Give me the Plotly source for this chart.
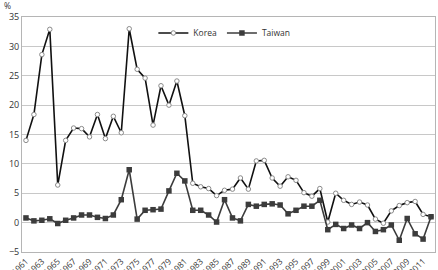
import plotly.graph_objects as go

years = [str(y) for y in range(1961, 2013)]
korea = [14.0, 18.4, 28.6, 32.9, 6.4, 14.0, 16.1, 16.0, 14.6, 18.4,
         14.3, 18.1, 15.3, 33.0, 26.1, 24.6, 16.6, 23.3, 20.0, 24.1,
         18.2, 6.7, 6.1, 5.8, 4.6, 5.5, 5.7, 7.6, 5.7, 10.5,
         10.6, 7.6, 6.2, 7.8, 7.2, 5.1, 4.5, 5.8, 0.1, 5.0,
         3.8, 3.1, 3.5, 3.0, 0.6, -0.1, 2.0, 2.9, 3.4, 3.6,
         1.4, 1.0]
taiwan = [0.8, 0.3, 0.4, 0.65, -0.15, 0.4, 0.8, 1.3, 1.3, 0.9,
          0.7, 1.3, 3.9, 9.0, 0.6, 2.1, 2.2, 2.3, 5.4, 8.4,
          7.1, 2.1, 2.1, 1.3, 0.1, 3.9, 0.8, 0.3, 3.1, 2.8,
          3.1, 3.2, 3.0, 1.5, 2.1, 2.8, 2.8, 3.8, -1.2, -0.3,
          -1.0, -0.4, -1.0, 0.0, -1.5, -1.2, -0.4, -3.0, 0.7, -1.9,
          -2.8, 1.0]
tick_years = [str(y) for y in range(1961, 2013, 2)]
y_ticks = [-5, 0, 5, 10, 15, 20, 25, 30, 35]

fig = go.Figure()
fig.add_trace(go.Scatter(
    x=years, y=korea, name="Korea", mode="lines+markers",
    line=dict(color="#111111", width=1.6),
    marker=dict(symbol="circle", size=4.5, color="white",
                line=dict(color="#8a8a8a", width=1)),
))
fig.add_trace(go.Scatter(
    x=years, y=taiwan, name="Taiwan", mode="lines+markers",
    line=dict(color="#3c3c3c", width=1.6),
    marker=dict(symbol="square", size=5.5, color="#3c3c3c"),
))

fig.update_layout(
    width=438, height=270,
    margin=dict(l=22, r=3, t=17, b=18, autoexpand=False),
    paper_bgcolor="white", plot_bgcolor="white",
    font=dict(family="Open Sans, Liberation Sans, sans-serif", size=9, color="#333333"),
    showlegend=True,
    legend=dict(orientation="h", x=0.49, xanchor="center", y=0.932, yanchor="middle",
                font=dict(size=8.5, color="#333333"), bgcolor="rgba(0,0,0,0)",
                itemwidth=30, tracegroupgap=0),
    xaxis=dict(type="category", categoryorder="array", categoryarray=years,
               range=[-0.5, len(years) - 0.5], automargin=False,
               tickmode="array", tickvals=tick_years, ticktext=tick_years,
               tickangle=-45, showgrid=False, zeroline=False,
               showline=True, linecolor="#b5b5b5", linewidth=1, mirror=True,
               ticks="", tickfont=dict(size=8.5)),
    yaxis=dict(range=[-5, 35], tickvals=y_ticks, showgrid=True, automargin=False,
               gridcolor="#c8c8c8", gridwidth=1, zeroline=False,
               showline=True, linecolor="#b5b5b5", linewidth=1, mirror=True,
               ticks="", tickfont=dict(size=9)),
    annotations=[dict(text="%", xref="paper", yref="paper", x=-0.034, y=1.048,
                      xanchor="center", yanchor="middle", showarrow=False,
                      font=dict(size=8.5, color="#333333"))],
)

fig.write_html("out.html")
